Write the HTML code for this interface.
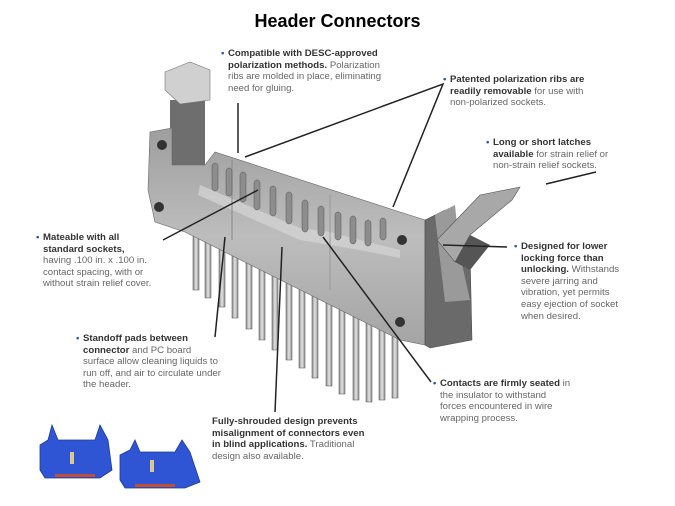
<!DOCTYPE html>
<html><head><meta charset="utf-8"><style>
html,body{margin:0;padding:0;background:#fff;}
body{width:675px;height:506px;position:relative;overflow:hidden;font-family:"Liberation Sans",sans-serif;}
.t{position:absolute;font-size:9.6px;line-height:11.6px;color:#666;white-space:nowrap;}
.t b{color:#333;}
.t .bl{position:absolute;left:-7px;top:0;color:#2a5aa8;font-weight:bold;}
h1{position:absolute;left:0;width:675px;text-align:center;top:11px;margin:0;font-size:18px;font-weight:bold;color:#000;}
svg{position:absolute;left:0;top:0;}
</style></head><body>
<svg width="675" height="506" viewBox="0 0 675 506">
<defs>
<linearGradient id="pin" x1="0" x2="1"><stop offset="0" stop-color="#888"/><stop offset=".5" stop-color="#e4e4e4"/><stop offset="1" stop-color="#8a8a8a"/></linearGradient>
<linearGradient id="bod" x1="0" y1="0" x2="0" y2="1"><stop offset="0" stop-color="#9e9e9e"/><stop offset=".5" stop-color="#bdbdbd"/><stop offset="1" stop-color="#a4a4a4"/></linearGradient>
</defs>
<!-- pins -->
<g fill="url(#pin)" stroke="#666" stroke-width=".6">
<rect x="193" y="220" width="6" height="70"/>
<rect x="205" y="226" width="6" height="72"/>
<rect x="219" y="232" width="6" height="75"/>
<rect x="232" y="238" width="6" height="80"/>
<rect x="246" y="244" width="6" height="85"/>
<rect x="259" y="250" width="6" height="90"/>
<rect x="272" y="256" width="6" height="94"/>
<rect x="286" y="262" width="6" height="98"/>
<rect x="299" y="268" width="6" height="100"/>
<rect x="312" y="274" width="6" height="104"/>
<rect x="326" y="280" width="6" height="106"/>
<rect x="339" y="286" width="6" height="108"/>
<rect x="353" y="292" width="6" height="108"/>
<rect x="366" y="298" width="6" height="104"/>
<rect x="379" y="304" width="6" height="96"/>
<rect x="392" y="310" width="6" height="88"/>
</g>
<!-- left latch -->
<polygon points="170,100 205,100 205,165 170,165" fill="#6e6e6e"/>
<polygon points="165,72 190,62 210,70 210,100 180,104 165,90" fill="#d0d0d0" stroke="#777" stroke-width=".6"/>
<!-- body -->
<polygon points="150,132 172,128 172,165 205,165 215,152 400,212 425,220 425,345 400,340 185,232 155,222 148,190" fill="url(#bod)" stroke="#666" stroke-width=".6"/>
<polygon points="200,185 300,228 330,232 360,240 400,250 400,258 360,250 300,240 198,195" fill="#d2d2d2" opacity=".8"/>
<line x1="232" y1="160" x2="232" y2="240" stroke="#888" stroke-width="1"/>
<line x1="330" y1="195" x2="330" y2="290" stroke="#999" stroke-width="1"/>
<!-- ribs -->
<g fill="#8d8d8d" stroke="#555" stroke-width=".5">
<rect x="212" y="163" width="6" height="28" rx="3"/>
<rect x="226" y="168" width="6" height="28" rx="3"/>
<rect x="240" y="172" width="6" height="30" rx="3"/>
<rect x="254" y="180" width="6" height="30" rx="3"/>
<rect x="270" y="186" width="6" height="30" rx="3"/>
<rect x="286" y="192" width="6" height="32" rx="3"/>
<rect x="302" y="200" width="6" height="32" rx="3"/>
<rect x="318" y="206" width="6" height="30" rx="3"/>
<rect x="335" y="212" width="6" height="28" rx="3"/>
<rect x="350" y="216" width="6" height="28" rx="3"/>
<rect x="365" y="220" width="6" height="26" rx="3"/>
<rect x="380" y="218" width="6" height="22" rx="3"/>
</g>
<!-- right end -->
<polygon points="425,220 445,210 470,250 472,340 430,348 425,345" fill="#6a6a6a" stroke="#444" stroke-width=".5"/>
<polygon points="435,215 455,205 460,255 470,300 445,302 440,260" fill="#9a9a9a"/>
<polygon points="437,240 480,195 520,187 512,200 470,235 455,262" fill="#a8a8a8" stroke="#555" stroke-width=".6"/>
<polygon points="455,262 470,235 490,245 470,270" fill="#555"/>
<g fill="#333"><circle cx="162" cy="145" r="5"/><circle cx="159" cy="207" r="5"/><circle cx="402" cy="240" r="5"/><circle cx="400" cy="322" r="5"/></g>
<!-- leader lines -->
<g stroke="#222" stroke-width="1.5" fill="none">
<line x1="238" y1="103" x2="238" y2="153"/>
<polyline points="245,157 443,84 393,207"/>
<line x1="596" y1="172" x2="546" y2="184"/>
<line x1="163" y1="240" x2="258" y2="190"/>
<line x1="215" y1="337" x2="225" y2="237"/>
<line x1="275" y1="412" x2="282" y2="247"/>
<line x1="431" y1="382" x2="323" y2="237"/>
<line x1="507" y1="247" x2="443" y2="245"/>
</g>
<!-- blue connectors -->
<g fill="#2f55d4" stroke="#1c3a9a" stroke-width=".8">
<polygon points="40,445 48,440 52,425 58,440 95,440 100,425 108,440 112,470 100,478 45,478 40,470"/>
<polygon points="120,455 130,450 135,440 140,452 175,452 182,440 190,452 200,482 185,488 125,488 120,480"/>
</g>
<g fill="#d8c890"><rect x="70" y="452" width="4" height="12"/><rect x="150" y="460" width="4" height="12"/></g>
<g fill="#c05030"><rect x="55" y="474" width="40" height="3"/><rect x="135" y="484" width="40" height="3"/></g>
</svg>
<h1>Header Connectors</h1>
<div class="t" style="left:228px;top:48px"><span class="bl">•</span><b>Compatible with DESC-approved</b><br><b>polarization methods.</b> Polarization<br>ribs are molded in place, eliminating<br>need for gluing.</div>
<div class="t" style="left:450px;top:74px"><span class="bl">•</span><b>Patented polarization ribs are</b><br><b>readily removable</b> for use with<br>non-polarized sockets.</div>
<div class="t" style="left:493px;top:137px"><span class="bl">•</span><b>Long or short latches</b><br><b>available</b> for strain relief or<br>non-strain relief sockets.</div>
<div class="t" style="left:43px;top:232px"><span class="bl">•</span><b>Mateable with all</b><br><b>standard sockets,</b><br>having .100 in. x .100 in.<br>contact spacing, with or<br>without strain relief cover.</div>
<div class="t" style="left:521px;top:241px"><span class="bl">•</span><b>Designed for lower</b><br><b>locking force than</b><br><b>unlocking.</b> Withstands<br>severe jarring and<br>vibration, yet permits<br>easy ejection of socket<br>when desired.</div>
<div class="t" style="left:83px;top:333px"><span class="bl">•</span><b>Standoff pads between</b><br><b>connector</b> and PC board<br>surface allow cleaning liquids to<br>run off, and air to circulate under<br>the header.</div>
<div class="t" style="left:440px;top:378px"><span class="bl">•</span><b>Contacts are firmly seated</b> in<br>the insulator to withstand<br>forces encountered in wire<br>wrapping process.</div>
<div class="t" style="left:212px;top:416px"><b>Fully-shrouded design prevents</b><br><b>misalignment of connectors even</b><br><b>in blind applications.</b> Traditional<br>design also available.</div>
</body></html>
